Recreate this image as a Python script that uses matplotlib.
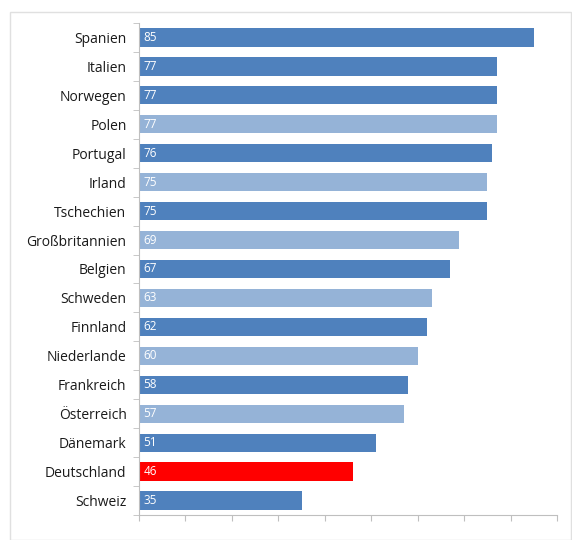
import matplotlib
matplotlib.use("Agg")
import matplotlib.pyplot as plt
from matplotlib.patches import Rectangle
import numpy as np

countries = ["Spanien", "Italien", "Norwegen", "Polen", "Portugal", "Irland", "Tschechien",
             "Großbritannien", "Belgien", "Schweden", "Finnland", "Niederlande", "Frankreich",
             "Österreich", "Dänemark", "Deutschland", "Schweiz"]
values = [85, 77, 77, 77, 76, 75, 75, 69, 67, 63, 62, 60, 58, 57, 51, 46, 35]
shade = ["d", "d", "d", "l", "d", "l", "d", "l", "d", "l", "d", "l", "d", "l", "d", "r", "d"]

colmap = {"d": "#4F81BD", "l": "#95B3D7", "r": "#FF0000"}

plt.rcParams['font.family'] = ['Open Sans', 'DejaVu Sans']

fig = plt.figure(figsize=(5.72, 5.40), dpi=100)
ax = fig.add_axes([139/572, 1-515/540, (557-139)/572, (515-23)/540])

n = len(countries)
y = np.arange(n)
ax.barh(y, values, height=0.63, color=[colmap[s] for s in shade])
for yi, v in zip(y, values):
    ax.text(1.0, yi, str(v), color="white", fontsize=8.5, va="center", ha="left")

ax.set_ylim(n - 0.5, -0.5)
ax.set_xlim(0, 90)
ax.set_yticks(y)
ax.set_yticklabels(countries, fontsize=10, color="#1a1a1a")
ax.tick_params(axis="y", length=0, pad=9)
ax.set_yticks(np.arange(-0.5, n, 1), minor=True)
ax.tick_params(axis="y", which="minor", length=4, color="#BFBFBF")
ax.set_xticks(np.arange(0, 91, 10))
ax.set_xticklabels([])
ax.tick_params(axis="x", length=4, color="#BFBFBF")
for s in ["top", "right"]:
    ax.spines[s].set_visible(False)
ax.spines["left"].set_color("#BFBFBF")
ax.spines["bottom"].set_color("#BFBFBF")

fig.patches.append(Rectangle((10/572, 0.0), (571-10)/572, 1-12/540, transform=fig.transFigure,
                             fill=False, edgecolor="#E0E0E0", linewidth=1))

fig.savefig("out.png", dpi=100)
